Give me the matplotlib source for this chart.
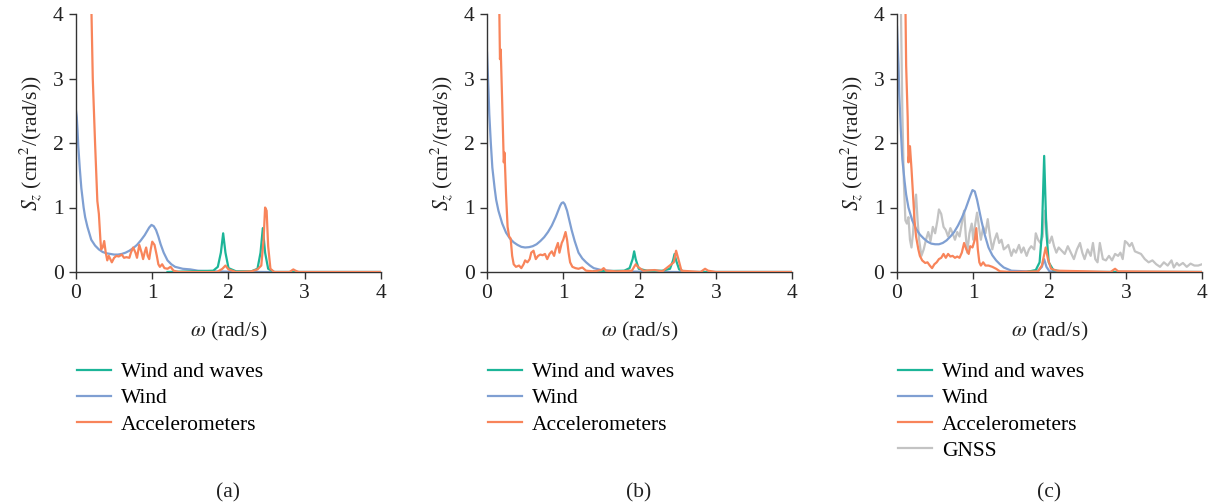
import numpy as np
import matplotlib
matplotlib.use("Agg")
import matplotlib.pyplot as plt

plt.rcParams['font.family'] = ['Liberation Serif', 'DejaVu Serif']
plt.rcParams['mathtext.fontset'] = 'stix'

C_WAVES = '#1cb598'
C_WIND = '#7f9fd2'
C_ACC = '#f8845a'
C_GNSS = '#c3c3c3'

# ---- panel (a) ----
a_wind_w = [0, 0.01, 0.02, 0.03, 0.05, 0.07, 0.1, 0.12, 0.15, 0.2, 0.25, 0.3, 0.35, 0.4, 0.45,
            0.5, 0.55, 0.6, 0.65, 0.7, 0.75, 0.8, 0.85, 0.9, 0.93, 0.96, 0.99, 1.02, 1.05,
            1.08, 1.11, 1.15, 1.2, 1.25, 1.3, 1.4, 1.5, 1.6, 1.8, 2.0, 2.5, 4.0]
a_wind_s = [2.5, 2.4, 2.2, 1.95, 1.6, 1.3, 1.0, 0.85, 0.7, 0.5, 0.41, 0.35, 0.31, 0.29, 0.28,
            0.27, 0.27, 0.28, 0.3, 0.33, 0.37, 0.42, 0.49, 0.57, 0.63, 0.69, 0.73, 0.71, 0.65,
            0.55, 0.43, 0.3, 0.18, 0.12, 0.08, 0.05, 0.04, 0.02, 0.01, 0.005, 0.0, 0.0]
a_waves_w = [1.2, 1.8, 1.86, 1.9, 1.93, 1.96, 2.0, 2.1, 2.3, 2.38, 2.42, 2.45, 2.48, 2.52, 2.6, 4.0]
a_waves_s = [0.0, 0.02, 0.08, 0.3, 0.6, 0.3, 0.06, 0.01, 0.01, 0.05, 0.3, 0.68, 0.3, 0.05, 0.0, 0.0]
a_acc_w = [0.2, 0.22, 0.25, 0.28, 0.3, 0.32, 0.33, 0.35, 0.37, 0.39, 0.41, 0.43, 0.45, 0.47, 0.5,
           0.53, 0.56, 0.6, 0.63, 0.66, 0.7, 0.72, 0.75, 0.78, 0.8, 0.83, 0.86, 0.88, 0.9, 0.92,
           0.94, 0.96, 0.98, 1.0, 1.03, 1.06, 1.08, 1.1, 1.13, 1.16, 1.2, 1.24, 1.28, 1.35, 1.85,
           1.92, 1.96, 2.0, 2.1, 2.3, 2.38, 2.43, 2.46, 2.48, 2.5, 2.52, 2.55, 2.6, 2.8, 2.85,
           2.88, 2.92, 4.0]
a_acc_s = [4.2, 3.0, 2.0, 1.1, 0.9, 0.5, 0.35, 0.38, 0.48, 0.3, 0.18, 0.25, 0.2, 0.15, 0.22,
           0.25, 0.24, 0.27, 0.22, 0.23, 0.22, 0.3, 0.38, 0.3, 0.22, 0.42, 0.3, 0.2, 0.3, 0.38,
           0.25, 0.2, 0.35, 0.47, 0.42, 0.25, 0.12, 0.08, 0.12, 0.06, 0.05, 0.08, 0.02, 0.0, 0.0,
           0.05, 0.1, 0.04, 0.0, 0.01, 0.04, 0.1, 0.5, 1.0, 0.95, 0.4, 0.05, 0.0, 0.0, 0.04,
           0.02, 0.0, 0.0]

# ---- panel (b) ----
b_wind_w = [0, 0.01, 0.02, 0.03, 0.05, 0.07, 0.1, 0.12, 0.15, 0.2, 0.25, 0.3, 0.35, 0.4, 0.45,
            0.5, 0.55, 0.6, 0.65, 0.7, 0.75, 0.8, 0.85, 0.9, 0.93, 0.96, 0.98, 1.0, 1.02, 1.05,
            1.08, 1.11, 1.15, 1.2, 1.25, 1.3, 1.35, 1.4, 1.5, 1.7, 2.0, 2.5, 4.0]
b_wind_s = [3.4, 3.1, 2.8, 2.45, 2.0, 1.62, 1.3, 1.12, 0.95, 0.75, 0.61, 0.52, 0.46, 0.42, 0.39,
            0.38, 0.385, 0.4, 0.43, 0.48, 0.54, 0.62, 0.72, 0.85, 0.94, 1.03, 1.07, 1.08, 1.05, 0.95,
            0.8, 0.65, 0.48, 0.3, 0.21, 0.15, 0.1, 0.06, 0.03, 0.01, 0.005, 0.0, 0.0]
b_waves_w = [1.4, 1.8, 1.87, 1.91, 1.93, 1.95, 1.99, 2.1, 2.3, 2.4, 2.44, 2.46, 2.48, 2.52, 2.6, 4.0]
b_waves_s = [0.01, 0.02, 0.06, 0.2, 0.32, 0.2, 0.05, 0.02, 0.02, 0.05, 0.18, 0.28, 0.18, 0.04, 0.0, 0.0]
b_acc_w = [0.16, 0.17, 0.18, 0.2, 0.22, 0.23, 0.25, 0.27, 0.29, 0.31, 0.33, 0.35, 0.38, 0.42,
           0.45, 0.48, 0.5, 0.53, 0.56, 0.58, 0.61, 0.64, 0.67, 0.7, 0.73, 0.76, 0.79, 0.82,
           0.85, 0.88, 0.9, 0.93, 0.95, 0.98, 1.0, 1.03, 1.05, 1.07, 1.09, 1.12, 1.16, 1.2, 1.25,
           1.3, 1.4, 1.5, 1.53, 1.56, 1.7, 1.9, 1.95, 1.98, 2.05, 2.2, 2.3, 2.45, 2.48, 2.51,
           2.55, 2.8, 2.86, 2.9, 3.0, 4.0]
b_acc_s = [4.2, 3.3, 3.45, 2.6, 1.7, 1.85, 1.2, 0.7, 0.55, 0.52, 0.25, 0.12, 0.08, 0.1,
           0.06, 0.12, 0.18, 0.15, 0.2, 0.3, 0.33, 0.2, 0.25, 0.27, 0.26, 0.28, 0.2, 0.28,
           0.32, 0.25, 0.35, 0.45, 0.3, 0.45, 0.5, 0.62, 0.5, 0.3, 0.15, 0.08, 0.06, 0.05, 0.07,
           0.02, 0.01, 0.03, 0.06, 0.02, 0.01, 0.02, 0.12, 0.08, 0.02, 0.03, 0.01, 0.15, 0.33, 0.2,
           0.02, 0.0, 0.05, 0.02, 0.0, 0.0]

# ---- panel (c) ----
c_wind_w = [0, 0.01, 0.02, 0.03, 0.05, 0.07, 0.1, 0.12, 0.15, 0.2, 0.25, 0.3, 0.35, 0.4, 0.45,
            0.5, 0.55, 0.6, 0.65, 0.7, 0.75, 0.8, 0.85, 0.9, 0.93, 0.96, 0.99, 1.02, 1.05,
            1.08, 1.11, 1.15, 1.2, 1.25, 1.3, 1.35, 1.4, 1.5, 1.7, 1.85, 1.9, 1.93, 1.96, 2.0,
            2.5, 4.0]
c_wind_s = [3.8, 3.5, 3.2, 2.75, 2.2, 1.75, 1.4, 1.2, 1.0, 0.8, 0.67, 0.58, 0.52, 0.47, 0.44,
            0.43, 0.43, 0.45, 0.49, 0.55, 0.62, 0.72, 0.84, 0.98, 1.08, 1.18, 1.27, 1.25, 1.12,
            0.95, 0.78, 0.58, 0.38, 0.26, 0.18, 0.12, 0.07, 0.02, 0.01, 0.02, 0.08, 0.2, 0.08, 0.01,
            0.0, 0.0]
c_waves_w = [1.7, 1.82, 1.87, 1.9, 1.93, 1.96, 1.99, 2.05, 2.2, 4.0]
c_waves_s = [0.0, 0.03, 0.15, 0.6, 1.8, 0.6, 0.15, 0.03, 0.0, 0.0]
c_acc_w = [0.11, 0.12, 0.14, 0.15, 0.17, 0.19, 0.21, 0.23, 0.25, 0.28, 0.3, 0.33, 0.37, 0.4,
           0.43, 0.46, 0.49, 0.52, 0.55, 0.58, 0.61, 0.64, 0.67, 0.7, 0.73, 0.76, 0.79, 0.82,
           0.85, 0.88, 0.91, 0.94, 0.96, 0.99, 1.02, 1.04, 1.06, 1.08, 1.1, 1.13, 1.16, 1.2,
           1.25, 1.3, 1.35, 1.5, 1.85, 1.9, 1.95, 1.98, 2.02, 2.1, 2.5, 2.8, 2.86, 2.9, 4.0]
c_acc_s = [4.2, 3.2, 2.4, 1.7, 1.95, 1.6, 1.2, 0.8, 0.55, 0.35, 0.25, 0.18, 0.14, 0.15,
           0.1, 0.06, 0.12, 0.15, 0.2, 0.22, 0.28, 0.22, 0.28, 0.24, 0.25, 0.22, 0.24, 0.22,
           0.3, 0.45, 0.35, 0.28, 0.4, 0.38, 0.5, 0.68, 0.35, 0.15, 0.1, 0.15, 0.1, 0.1,
           0.08, 0.05, 0.01, 0.0, 0.01, 0.1, 0.38, 0.2, 0.05, 0.02, 0.01, 0.0, 0.05, 0.01, 0.0]
c_gnss_w = [0.05, 0.07, 0.09, 0.11, 0.13, 0.15, 0.17, 0.19, 0.21, 0.23, 0.25, 0.27, 0.29, 0.32,
            0.35, 0.38, 0.41, 0.44, 0.47, 0.5, 0.53, 0.55, 0.58, 0.61, 0.64, 0.67, 0.7, 0.73,
            0.76, 0.79, 0.82, 0.85, 0.88, 0.9, 0.92, 0.95, 0.98, 1.0, 1.02, 1.05, 1.08, 1.1,
            1.13, 1.16, 1.19, 1.22, 1.25, 1.28, 1.31, 1.34, 1.37, 1.4, 1.43, 1.46, 1.5, 1.53,
            1.56, 1.6, 1.63, 1.66, 1.7, 1.73, 1.76, 1.8, 1.82, 1.85, 1.88, 1.91, 1.94, 1.96,
            1.98, 2.0, 2.03, 2.06, 2.09, 2.12, 2.16, 2.2, 2.24, 2.28, 2.32, 2.36, 2.4, 2.43,
            2.46, 2.5, 2.54, 2.57, 2.6, 2.63, 2.66, 2.7, 2.74, 2.78, 2.82, 2.86, 2.9, 2.93,
            2.96, 2.99, 3.02, 3.05, 3.08, 3.12, 3.16, 3.2, 3.25, 3.3, 3.35, 3.4, 3.45, 3.5,
            3.55, 3.6, 3.63, 3.67, 3.7, 3.75, 3.8, 3.85, 3.9, 3.95, 4.0]
c_gnss_s = [4.2, 2.5, 1.4, 0.8, 0.75, 0.85, 0.5, 0.38, 0.6, 1.0, 1.2, 0.8, 0.5, 0.25,
            0.35, 0.5, 0.62, 0.48, 0.7, 0.6, 0.8, 0.97, 0.9, 0.7, 0.65, 0.55, 0.68, 0.6,
            0.5, 0.62, 0.55, 0.75, 0.95, 0.6, 0.3, 0.6, 0.75, 0.5, 0.7, 0.92, 0.65, 0.5,
            0.7, 0.6, 0.82, 0.55, 0.35, 0.5, 0.6, 0.45, 0.5, 0.35, 0.38, 0.42, 0.25, 0.35,
            0.3, 0.42, 0.3, 0.38, 0.25, 0.35, 0.4, 0.35, 0.6, 0.5, 0.45, 0.55, 0.95, 0.75,
            0.5, 0.45, 0.55, 0.4, 0.3, 0.38, 0.33, 0.28, 0.4, 0.3, 0.2, 0.35, 0.45, 0.3,
            0.2, 0.35, 0.25, 0.45, 0.2, 0.15, 0.45, 0.2, 0.18, 0.25, 0.18, 0.28, 0.25, 0.3,
            0.2, 0.48, 0.45, 0.4, 0.45, 0.32, 0.3, 0.28, 0.2, 0.15, 0.18, 0.12, 0.08, 0.15,
            0.1, 0.18, 0.07, 0.14, 0.1, 0.14, 0.08, 0.13, 0.1, 0.1, 0.12]

panels = [
    ('(a)', 76, [('Wind and waves', a_waves_w, a_waves_s, C_WAVES),
                 ('Wind', a_wind_w, a_wind_s, C_WIND),
                 ('Accelerometers', a_acc_w, a_acc_s, C_ACC)]),
    ('(b)', 487, [('Wind and waves', b_waves_w, b_waves_s, C_WAVES),
                  ('Wind', b_wind_w, b_wind_s, C_WIND),
                  ('Accelerometers', b_acc_w, b_acc_s, C_ACC)]),
    ('(c)', 897, [('Wind and waves', c_waves_w, c_waves_s, C_WAVES),
                  ('Wind', c_wind_w, c_wind_s, C_WIND),
                  ('Accelerometers', c_acc_w, c_acc_s, C_ACC),
                  ('GNSS', c_gnss_w, c_gnss_s, C_GNSS)]),
]

W, H = 1214, 504
FS = 15.5
fig = plt.figure(figsize=(W / 100, H / 100), dpi=100)

# draw order: gnss, wind, waves, accelerometers
zorders = {'GNSS': 1, 'Wind': 2, 'Wind and waves': 3, 'Accelerometers': 4}

for tag, left_px, series in panels:
    ax = fig.add_axes([left_px / W, 1 - 272 / H, 305 / W, 258 / H])
    for label, w, s, col in series:
        ax.plot(w, s, color=col, lw=1.6, label=label, zorder=zorders[label],
                solid_joinstyle='round')
    ax.set_xlim(0, 4)
    ax.set_ylim(0, 4)
    ax.set_xticks([0, 1, 2, 3, 4])
    ax.set_yticks([0, 1, 2, 3, 4])
    for side in ('top', 'right'):
        ax.spines[side].set_visible(False)
    for side in ('left', 'bottom'):
        ax.spines[side].set_color('#333333')
        ax.spines[side].set_linewidth(1.0)
    ax.tick_params(direction='out', length=5, width=1.0, color='#333333',
                   labelsize=FS, labelcolor='#222222', pad=4)
    ax.set_xlabel(r'$\omega$ (rad/s)', fontsize=FS, color='#222222', labelpad=12)
    ax.set_ylabel(r'$S_z$ (cm$^2$/(rad/s))', fontsize=FS, color='#222222', labelpad=6)
    ax.legend(loc='upper left', bbox_to_anchor=(0.003, -0.35), frameon=False,
              fontsize=FS, handlelength=1.6, handletextpad=0.45, labelspacing=0.28,
              borderaxespad=0, borderpad=0)
    fig.text((left_px + 152) / W, 1 - 493 / H, tag, ha='center', va='center',
             fontsize=FS, color='#222222')

fig.savefig('out.png', dpi=100)
